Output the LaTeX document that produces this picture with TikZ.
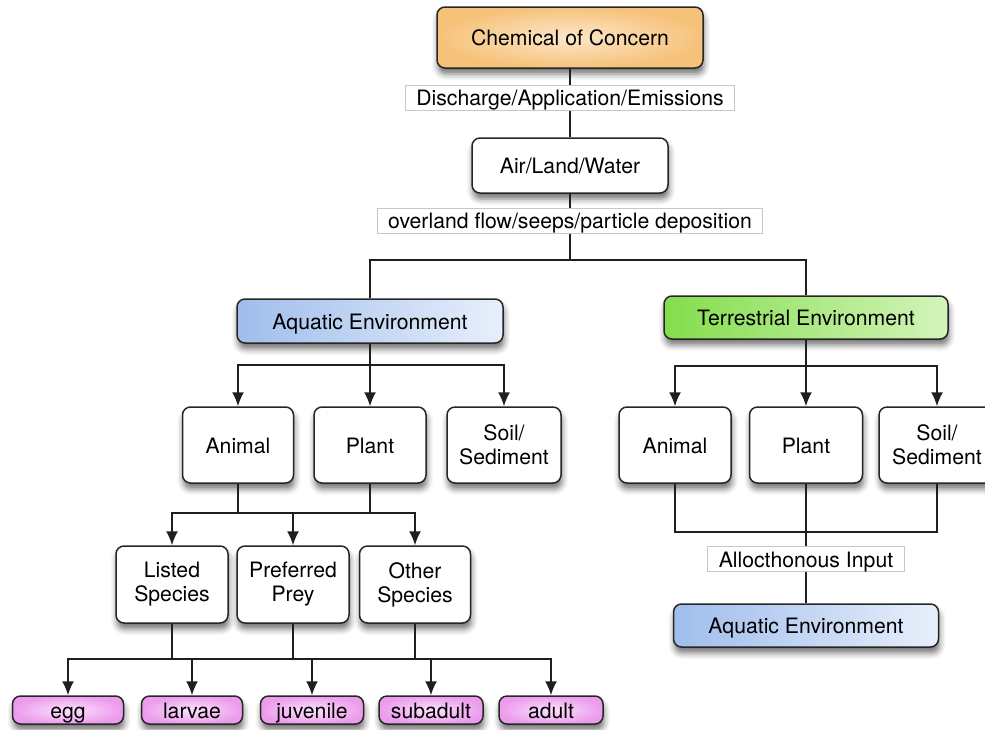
\documentclass[tikz,border=0pt]{standalone}
\usepackage{fontspec}
\setmainfont{TeX Gyre Heros}
\usepackage{tikz}
\usetikzlibrary{arrows.meta, positioning, shapes, shadows.blur}

\definecolor{cocin}{HTML}{FCE7C9}
\definecolor{cocout}{HTML}{F6C27A}
\definecolor{aqualeft}{HTML}{9FBDEC}
\definecolor{aquaright}{HTML}{E8EFFB}
\definecolor{terleft}{HTML}{84DD4C}
\definecolor{terright}{HTML}{D3F4BA}
\definecolor{stagein}{HTML}{FBE2FB}
\definecolor{stageout}{HTML}{EC9CEC}

\begin{document}
\begin{tikzpicture}[x=0.5pt, y=-0.5pt,
	font=\fontsize{10.6}{12}\selectfont,
	box/.style={draw=black!85, line width=0.75pt, rounded corners=4pt, align=center,
		inner sep=0pt, fill=white,
		blur shadow={shadow xshift=0.5pt, shadow yshift=-3pt, shadow blur radius=3pt, shadow opacity=55}},
	oneline/.style={text height=8.4pt, text depth=0pt},
	tag/.style={draw=black!22, line width=0.5pt, fill=white, inner xsep=5.5pt, inner ysep=0pt,
		minimum height=12.5pt, oneline},
	line/.style={draw=black!88, line width=0.8pt},
	arrow/.style={line, -{Latex[length=7pt, width=6pt]}}]

\useasboundingbox (0,0) rectangle (985,729);

% source and pathway
\node [box, oneline, inner color=cocin, outer color=cocout, minimum width=133pt, minimum height=30.5pt] (1) at (570,37.5) {Chemical of Concern};
\node [tag] (2) at (570,97.5) {Discharge/Application/Emissions};
\node [box, oneline, minimum width=98pt, minimum height=27.5pt] (3) at (570,165.5) {Air/Land/Water};
\node [tag] (4) at (570,220.5) {overland flow/seeps/particle deposition};

% environments
\node [box, oneline, left color=aqualeft, right color=aquaright, minimum width=133pt, minimum height=22pt] (5) at (370,321) {Aquatic Environment};
\node [box, oneline, left color=terleft, right color=terright, minimum width=142pt, minimum height=21.5pt] (6) at (806,317.5) {Terrestrial Environment};

% receptors
\node [box, oneline, minimum width=55.5pt, minimum height=38pt] (7) at (238,445) {Animal};
\node [box, oneline, minimum width=56pt, minimum height=38pt] (8) at (370,445) {Plant};
\node [box, minimum width=57pt, minimum height=38pt] (9) at (504,445) {Soil/\\Sediment};
\node [box, oneline, minimum width=56pt, minimum height=38pt] (10) at (675,445) {Animal};
\node [box, oneline, minimum width=56.5pt, minimum height=38pt] (11) at (806,445) {Plant};
\node [box, minimum width=58pt, minimum height=38pt] (12) at (937,445) {Soil/\\Sediment};

% species groups
\node [box, minimum width=56pt, minimum height=38.5pt] (13) at (172,584.5) {Listed\\Species};
\node [box, minimum width=56pt, minimum height=38.5pt] (14) at (293,584.5) {Preferred\\Prey};
\node [box, minimum width=55.5pt, minimum height=38.5pt] (15) at (415,584.5) {Other\\Species};

% life stages
\node [box, oneline, inner color=stagein, outer color=stageout, minimum width=55.5pt, minimum height=14pt] (16) at (68,710) {egg};
\node [box, oneline, inner color=stagein, outer color=stageout, minimum width=50.5pt, minimum height=14pt] (17) at (192,710) {larvae};
\node [box, oneline, inner color=stagein, outer color=stageout, minimum width=51.5pt, minimum height=14pt] (18) at (312,710) {juvenile};
\node [box, oneline, inner color=stagein, outer color=stageout, minimum width=52pt, minimum height=14pt] (19) at (431,710) {subadult};
\node [box, oneline, inner color=stagein, outer color=stageout, minimum width=52pt, minimum height=14pt] (20) at (551,710) {adult};

% terrestrial to aquatic
\node [tag] (21) at (806,559) {Allocthonous Input};
\node [box, oneline, left color=aqualeft, right color=aquaright, minimum width=132.5pt, minimum height=21.5pt] (22) at (806,625.5) {Aquatic Environment};

\coordinate (s1) at (570,260);
\coordinate (s2) at (370,365);
\coordinate (s3) at (806,366);
\coordinate (s4) at (370,513);
\coordinate (s5) at (293,659);
\coordinate (s6) at (806,532);

\path [line] (1) -- (2);
\path [line] (2) -- (3);
\path [line] (3) -- (4);
\path [line] (4) -- (s1);
\path [line] (5) |- (s1) -| (6);

\path [line] (5) -- (s2);
\path [arrow] (s2) -| (7);
\path [arrow] (s2) -- (8);
\path [arrow] (s2) -| (9);

\path [line] (6) -- (s3);
\path [arrow] (s3) -| (10);
\path [arrow] (s3) -- (11);
\path [arrow] (s3) -| (12);

\path [line] (7) -- (7 |- s4);
\path [line] (8) -- (s4);
\path [arrow] (s4) -| (13);
\path [arrow] (s4) -| (14);
\path [arrow] (s4) -| (15);

\path [line] (13) -- (13 |- s5);
\path [line] (14) -- (s5);
\path [line] (15) -- (15 |- s5);
\path [arrow] (s5) -| (16);
\path [arrow] (s5) -| (17);
\path [arrow] (s5) -| (18);
\path [arrow] (s5) -| (19);
\path [arrow] (s5) -| (20);

\path [line] (10) |- (s6) -| (12);
\path [line] (11) -- (21);
\path [line] (21) -- (22);

\end{tikzpicture}
\end{document}
